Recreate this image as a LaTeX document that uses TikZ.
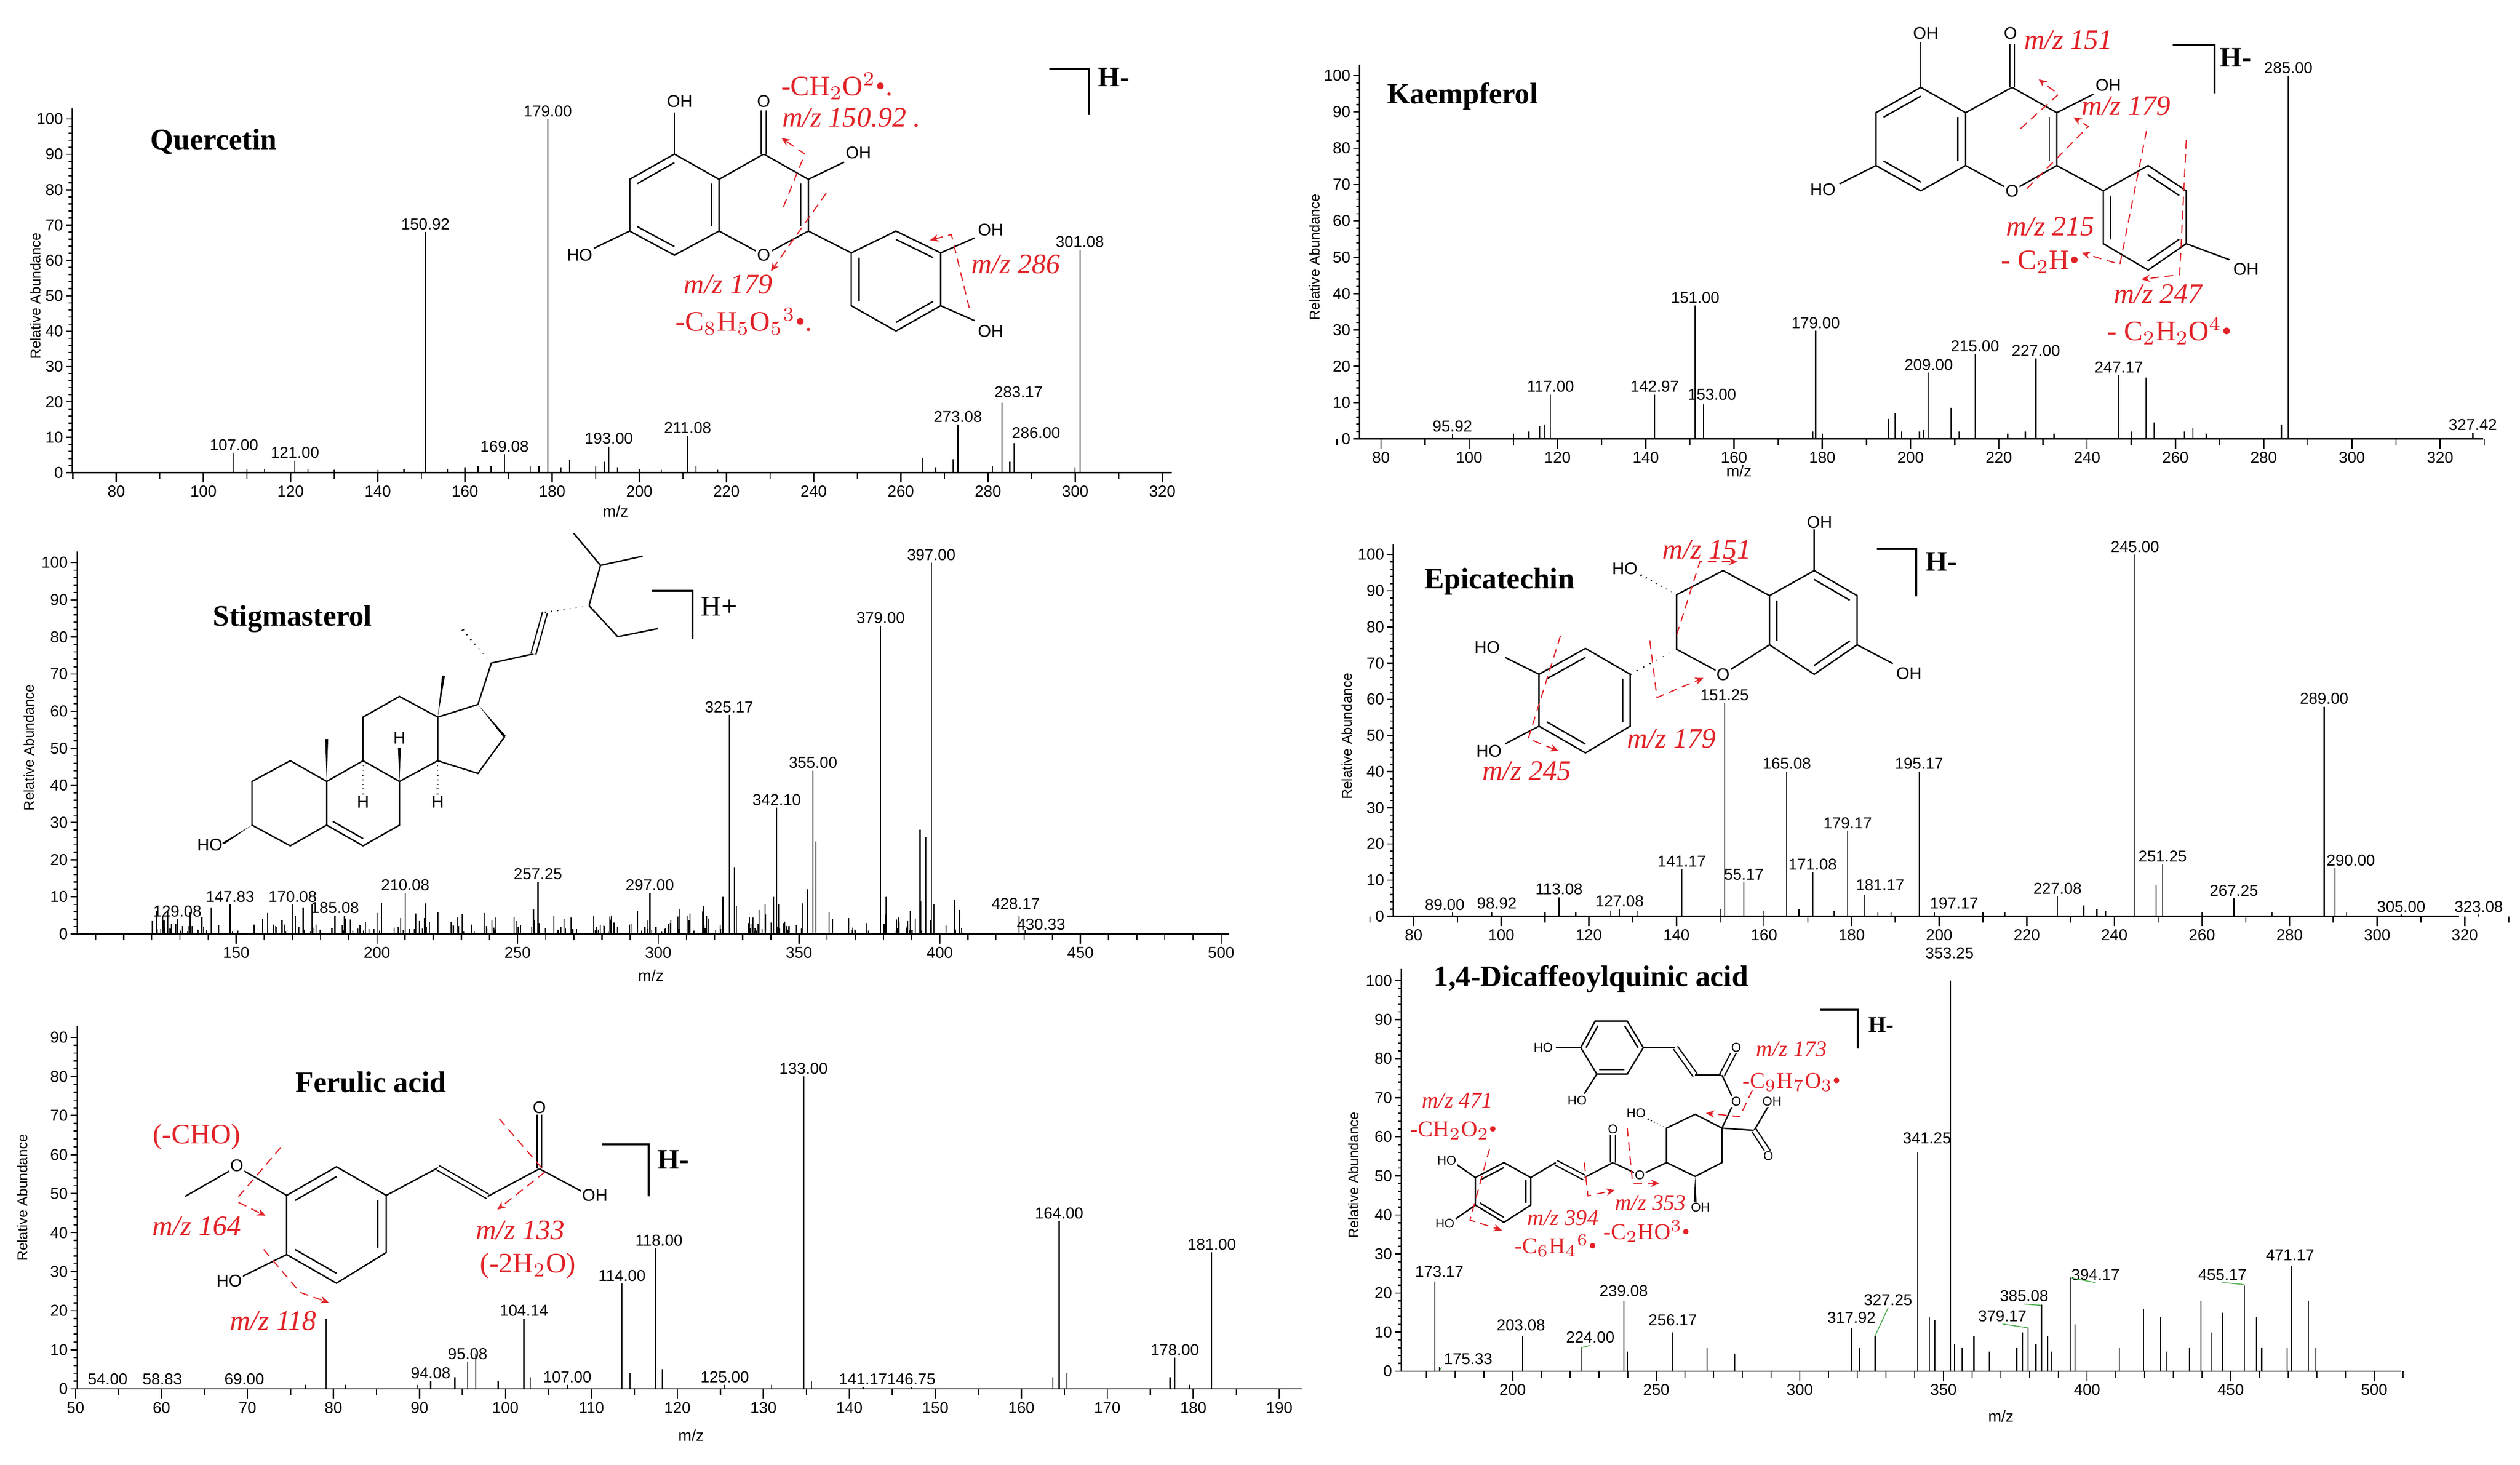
\documentclass[tikz,border=0pt]{standalone}
\usepackage{fontspec}
\setmainfont{Liberation Serif}
\setsansfont{Liberation Sans}
\usetikzlibrary{calc,arrows.meta}
\definecolor{mred}{RGB}{225,35,40}
\definecolor{mgreen}{RGB}{70,170,70}
\tikzset{
 axl/.style={line width=0.45pt,black},
 pk/.style={line width=0.4pt,black},
 ticklab/.style={font=\sffamily\fontsize{5.6}{6}\selectfont},
 pklab/.style={font=\sffamily\fontsize{5.6}{6}\selectfont,inner sep=0.6pt},
 ylab/.style={font=\sffamily\fontsize{5}{5}\selectfont,rotate=90},
 ttl/.style={font=\bfseries\fontsize{10.5}{11}\selectfont},
 hion/.style={font=\bfseries\fontsize{10}{10}\selectfont},
 bond/.style={line width=0.5pt},
 dbond/.style={line width=0.45pt,double,double distance=1.3pt},
 atom/.style={font=\sffamily\fontsize{6}{6}\selectfont,inner sep=0.4pt,fill=white},
 satom/.style={font=\sffamily\fontsize{4.5}{4.5}\selectfont,inner sep=0.3pt,fill=white},
 rlab/.style={text=mred,font=\fontsize{10}{10}\selectfont,inner sep=0.5pt},
 srlab/.style={text=mred,font=\fontsize{8}{8}\selectfont,inner sep=0.5pt},
 rda/.style={draw=mred,densely dashed,line width=0.4pt,-{Stealth[length=3pt,width=2.6pt]}},
 brk/.style={line width=0.7pt},
 gl/.style={draw=mgreen,line width=0.3pt}
}
\newcommand{\specaxis}[9]{%
 \draw[axl] (#1,#2) -- (#4,#2);
 \draw[axl] (#1,#2) -- (#1,{#2-(#9+3)/100*(#2-#3)});
 \foreach \v in {0,10,...,#9} \draw[axl] (#1,{#2-\v/100*(#2-#3)}) -- ++(-4,0) node[ticklab,left,inner sep=0.8pt]{\v};
 \foreach \v in {2,4,...,#9} \draw[axl] (#1,{#2-\v/100*(#2-#3)}) -- ++(-2.2,0);
 \foreach \m in {#7} \draw[axl] ({#5+#6*\m},#2) -- ++(0,6) node[ticklab,below,inner sep=1pt]{\m};
 \foreach \m in {#8} \draw[axl] ({#5+#6*\m},#2) -- ++(0,4);
}
\newcommand{\pks}[5]{\foreach \m/\h in {#5} \draw[pk] ({#1+#2*\m},#3) -- ++(0,{-\h/100*(#3-#4)});}
\newcommand{\plab}[5]{\foreach \m/\h/\tx in {#5} \node[pklab,anchor=south] at ({#1+#2*\m},{#3-\h/100*(#3-#4)}) {\tx};}
\newcommand{\ib}[3]{\draw[bond] ($(#1)!0.17!(#3)$) -- ($(#2)!0.17!(#3)$);}
\newcommand{\db}[2]{\draw[dbond] (#1) -- (#2);}
\newcommand{\wg}[2]{\fill (#1) -- ($(#2)!2.2pt!90:(#1)$) -- ($(#2)!2.2pt!-90:(#1)$) -- cycle;}
\newcommand{\hb}[2]{\foreach \tt [evaluate=\tt as \ww using \tt*2.0] in {0.15,0.29,0.43,0.57,0.71,0.85,0.99} \draw[line width=0.35pt] ($(#1)!\tt!(#2)!\ww pt!90:(#1)$) -- ($(#1)!\tt!(#2)!\ww pt!-90:(#1)$);}
\begin{document}
\begin{tikzpicture}[x=0.02cm,y=-0.02cm]
\fill[white] (0,0) rectangle (1568,911.3);
\useasboundingbox (0,0) rectangle (1568,911.3);

% ================= Quercetin =================
\specaxis{45}{294}{74}{729}{-144.6}{2.712}{80,100,...,320}{70,90,...,310}{100}
\pks{-144.6}{2.712}{294}{74}{107/5.6,121/3.4,150.92/68,169.08/5.2,179/100,193/7.4,211.08/10.4,273.08/13.6,283.17/19.8,286/8.4,301.08/63,265/4.2,272/3.8,184/3.6,192/3,160/1.5,190/2,213/2,110/1,114/1,124/1,163/2,166/2,175/2,177/2,182/1.5,195/1.5,268/1.5,281/2,285/3,300/1.5,130/0.8,140/0.8,146/1,156/1,200/1,205/0.8,218/0.8}
\plab{-144.6}{2.712}{294}{74}{107/5.6/107.00,121/3.4/121.00,150.92/68/150.92,169.08/5.2/169.08,179/100/179.00,193/7.4/193.00,211.08/10.4/211.08,273.08/13.6/273.08,287/20.5/283.17,291/9/286.00,301.08/63/301.08}
\node[ylab] (qy) at (22,184) {Relative Abundance};
\node[ticklab] (qx) at (383,318) {m/z};
\node[ttl] (qt) at (133,88) {Quercetin};
\begin{scope}[shift={(336.2,0)},xscale=0.2224,yscale=0.143]
 \draw[bond] (375,670)--(500,780)--(500,1005)--(375,1110)--(250,1005)--(250,780)--cycle;
 \draw[bond] (500,780)--(625,670)--(750,780)--(750,1005)--(625,1110)--(500,1005);
 \draw[bond] (995,1005)--(1120,1100)--(1120,1330)--(995,1440)--(870,1330)--(870,1100)--cycle;
 \ib{250,780}{375,670}{375,890} \ib{500,780}{500,1005}{375,890} \ib{375,1110}{250,1005}{375,890}
 \ib{750,780}{750,1005}{625,890}
 \ib{995,1005}{1120,1100}{995,1220} \ib{1120,1330}{995,1440}{995,1220} \ib{870,1330}{870,1100}{995,1220}
 \draw[bond] (750,1005)--(870,1100);
 \draw[bond] (375,670)--(375,490); \db{625,670}{625,480}
 \draw[bond] (750,780)--(850,705); \draw[bond] (250,1005)--(150,1080);
 \draw[bond] (1120,1100)--(1215,1035); \draw[bond] (1120,1330)--(1215,1395);
 \node[atom] (qo1) at (390,440) {OH}; \node[atom] (qo2) at (625,440) {O};
 \node[atom] (qo3) at (890,665) {OH}; \node[atom] (qo4) at (110,1110) {HO};
 \node[atom] (qo5) at (625,1110) {O}; \node[atom] (qo6) at (1260,1000) {OH};
 \node[atom] (qo7) at (1260,1440) {OH};
 \draw[rda] (680,900)--(740,670)--(675,600);
 \draw[rda] (800,840)--(645,1180);
 \draw[rda] (1200,1340)--(1150,1020)--(1090,1045);
\end{scope}
\node[rlab] (qr1) at (520.8,53.6) {-CH$_2$O$^2$\textbullet.};
\node[rlab] (qr2) at (529.7,73) {\itshape m/z 150.92 .};
\node[rlab] (qr3) at (453,177) {\itshape m/z 179};
\node[rlab] (qr4) at (463,200) {-C$_8$H$_5$O$_5$$^3$\textbullet.};
\node[rlab] (qr5) at (632,164.5) {\itshape m/z 286};
\draw[brk] (653,43)--(677.6,43)--(677.6,71.5);
\node[hion] (qh) at (693,48) {H-};

% ================= Kaempferol =================
\specaxis{846}{273}{47}{1545}{639.6}{2.746}{80,100,...,320}{70,90,...,330}{100}
\pks{639.6}{2.746}{273}{47}{96.2/1.3,118.4/12.2,142/12.2,151.2/36.7,153.1/9.5,178.5/29.8,204.1/18.2,214.6/23.4,228.4/22.1,247.2/17.6,285.6/100,327.4/1.7,209.2/8.6,253.4/16.9,255.2/4.5,196.5/7,195/5.5,113.5/2,116/3.5,117/4,203/2.5,284/4,262/2,264/3,232.5/1.5,110/1.5,177.8/2,180/1.5,198/2,202/2,211/2,222/1.5,226/2,250/2,267/1.5}
\plab{639.6}{2.746}{273}{47}{96.2/1.3/95.92,118.4/12.2/117.00,142/12.2/142.97,151.2/36.7/151.00,155/10/153.00,178.5/29.8/179.00,204.1/18.2/209.00,214.6/23.4/215.00,228.4/22.1/227.00,247.2/17.6/247.17,285.6/100/285.00,327.4/1.7/327.42}
\node[ylab] (ky) at (818,160) {Relative Abundance};
\node[ticklab] (kx) at (1082,293) {m/z};
\node[ttl] (kt) at (910,60) {Kaempferol};
\begin{scope}[shift={(1120.8,0)},xscale=0.2065,yscale=0.143]
 \draw[bond] (360,380)--(495,490)--(495,720)--(360,830)--(225,720)--(225,490)--cycle;
 \draw[bond] (495,490)--(635,380)--(770,490)--(770,720)--(635,830)--(495,720);
 \draw[bond] (1045,720)--(1160,830)--(1160,1060)--(1045,1175)--(910,1060)--(910,830)--cycle;
 \ib{225,490}{360,380}{360,605} \ib{495,490}{495,720}{360,605} \ib{360,830}{225,720}{360,605}
 \ib{770,490}{770,720}{635,605}
 \ib{1045,720}{1160,830}{1035,948} \ib{1160,1060}{1045,1175}{1035,948} \ib{910,1060}{910,830}{1035,948}
 \draw[bond] (770,720)--(910,830);
 \draw[bond] (360,380)--(360,185); \db{635,380}{635,190}
 \draw[bond] (770,490)--(880,410); \draw[bond] (225,720)--(115,800);
 \draw[bond] (1160,1060)--(1290,1130);
 \node[atom] (ko1) at (375,145) {OH}; \node[atom] (ko2) at (630,145) {O};
 \node[atom] (ko3) at (925,370) {OH}; \node[atom] (ko4) at (65,825) {HO};
 \node[atom] (ko5) at (635,830) {O}; \node[atom] (ko6) at (1340,1170) {OH};
 \draw[rda] (660,560)--(775,410)--(715,345);
 \draw[rda] (680,820)--(865,550)--(820,510);
 \draw[rda] (1040,570)--(960,1150)--(845,1100);
 \draw[rda] (1160,610)--(1140,1195)--(1025,1215);
\end{scope}
\node[rlab] (kr1) at (1287,25) {\itshape m/z 151};
\node[rlab] (kr2) at (1323,65.8) {\itshape m/z 179};
\node[rlab] (kr3) at (1275.7,140.9) {\itshape m/z 215};
\node[rlab] (kr4) at (1269.5,163) {- C$_2$H\textbullet};
\node[rlab] (kr5) at (1342.8,183) {\itshape m/z 247};
\node[rlab] (kr6) at (1350,206) {- C$_2$H$_2$O$^4$\textbullet};
\draw[brk] (1352,27.9)--(1378,27.9)--(1378,58);
\node[hion] (kh) at (1391,35.7) {H-};

% ================= Stigmasterol =================
\specaxis{48}{581}{350}{765}{-115.7}{1.751}{150,200,...,500}{100,110,...,500}{100}
\pks{-115.7}{1.751}{581}{350}{129.08/4,147.83/8,170.08/8,185.08/5,210.08/11,257.25/14,297/11,325.17/59,342.1/34,355/44,379/83,397/100,428.17/5,430.33/1,393/28,395/26,381/10,398/8,327/18,323/10,356/25,353/12,341/10,338/8}
\pgfmathsetseed{11}
\foreach \i in {1,...,240}{\pgfmathsetmacro\mm{120+rnd*290}\pgfmathsetmacro\hh{0.8+rnd*rnd*9}
 \draw[pk] ({-115.7+1.751*\mm},581) -- ++(0,{-2.31*\hh});}
\plab{-115.7}{1.751}{581}{350}{129.08/4/129.08,147.83/8/147.83,170.08/8/170.08,185.08/5/185.08,210.08/11/210.08,257.25/14/257.25,297/11/297.00,325.17/59/325.17,342.1/34/342.10,355/44/355.00,379/83/379.00,397/100/397.00,427/6/428.17,436/0.5/430.33}
\node[ylab] (sy) at (18,465) {Relative Abundance};
\node[ticklab] (sx) at (405,607) {m/z};
\node[ttl] (st) at (182,385) {Stigmasterol};
\begin{scope}[shift={(99.6,323.8)},xscale=0.2383,yscale=0.143]
 \draw[bond] (340,1045)--(435,1135)--(435,1325)--(340,1415)--(240,1325)--(240,1135)--cycle;
 \draw[bond] (435,1135)--(530,1045)--(625,1135)--(625,1325)--(530,1415)--(435,1325);
 \ib{435,1325}{530,1415}{530,1230}
 \draw[bond] (530,1045)--(530,855)--(625,765)--(725,855)--(725,1045)--(625,1135);
 \draw[bond] (725,855)--(830,800); \wg{830,800}{900,940}
 \draw[bond] (900,940)--(830,1100)--(725,1045);
 \draw[bond] (830,800)--(865,620)--(975,580); \db{975,580}{1005,400}
 \hb{1120,370}{1005,400}
 \draw[bond] (1120,370)--(1150,195)--(1080,55); \draw[bond] (1150,195)--(1260,155);
 \draw[bond] (1120,370)--(1195,505)--(1300,470);
 \hb{865,620}{790,475}
 \wg{435,1135}{435,950} \wg{725,855}{740,675} \wg{625,1135}{625,990}
 \hb{530,1045}{530,1190} \hb{725,1045}{725,1190}
 \wg{240,1325}{165,1405}
 \node[atom,fill=none] (sh1) at (625,945) {H};
 \node[atom,fill=none] (sh2) at (530,1225) {H};
 \node[atom,fill=none] (sh3) at (725,1225) {H};
 \node[atom,fill=none] (sho) at (130,1410) {HO};
\end{scope}
\draw[brk] (405.8,367.4)--(430.8,367.4)--(430.8,397.4);
\node[hion,font=\fontsize{10}{10}\selectfont] (sh) at (447.5,377.4) {H+};

% ================= Epicatechin =================
\specaxis{867}{570}{345}{1530}{661.6}{2.725}{80,100,...,320}{70,90,...,330}{100}
\pks{661.6}{2.725}{570}{345}{88.9/1,97.8/1,113.2/5.3,127/2,141.2/13,151/59,155.4/9.4,165.2/40,171.1/12.2,179.1/23.6,183/6,195.4/40,198.9/1,227/5.5,244.7/100,251/14.4,267.3/5,287.9/58,290.4/13.3,305.5/0.5,323.2/0.5,249.5/8.7,233/3,236/2,168/2,186/1,176/1.5,131/1.5,125/1.5,110/1,117/1,150/2,160/1.5,189/1,210/1,215/1,238/1.5,260/1,276/1,293/1}
\plab{661.6}{2.725}{570}{345}{87.1/1/89.00,99/1.5/98.92,113.2/5.3/113.08,127/2/127.08,141.2/13/141.17,151/59/151.25,155.4/9.4/55.17,165.2/40/165.08,171.1/12.2/171.08,179.1/23.6/179.17,186.5/6.5/181.17,195.4/40/195.17,203.4/1.5/197.17,227/5.5/227.08,244.7/100/245.00,251/14.4/251.25,267.3/5/267.25,287.9/58/289.00,294/13.3/290.00,305.5/0.5/305.00,323.2/0.5/323.08}
\node[ylab] (ey) at (838,458) {Relative Abundance};
\node[ttl] (et) at (933,361.6) {Epicatechin};
\begin{scope}[shift={(884.2,323.8)},xscale=0.2224,yscale=0.1112]
 \draw[bond] (1100,280)--(1220,420)--(1220,695)--(1100,860)--(975,695)--(975,420)--cycle;
 \draw[bond] (975,420)--(845,280)--(715,415)--(715,720)--(845,860)--(975,695);
 \draw[bond] (460,715)--(585,860)--(585,1150)--(460,1300)--(330,1150)--(330,860)--cycle;
 \ib{1100,280}{1220,420}{1098,570} \ib{1220,695}{1100,860}{1098,570} \ib{975,695}{975,420}{1098,570}
 \ib{330,860}{460,715}{458,1008} \ib{585,860}{585,1150}{458,1008} \ib{460,1300}{330,1150}{458,1008}
 \draw[bond] (1100,280)--(1100,40); \draw[bond] (1220,695)--(1320,800);
 \hb{715,415}{615,305} \hb{715,720}{585,860}
 \draw[bond] (330,860)--(235,765); \draw[bond] (330,1150)--(235,1250);
 \node[atom] (eo1) at (1115,10) {OH}; \node[atom] (eo2) at (1365,855) {OH};
 \node[atom] (eo3) at (845,860) {O}; \node[atom] (eo4) at (570,270) {HO};
 \node[atom] (eo5) at (185,710) {HO}; \node[atom] (eo6) at (190,1290) {HO};
 \draw[rda] (715,640)--(780,230)--(885,230);
 \draw[rda] (640,670)--(660,990)--(790,880);
 \draw[rda] (390,645)--(300,1220)--(385,1290);
\end{scope}
\node[rlab] (er1) at (1062,342) {\itshape m/z 151};
\node[rlab] (er2) at (1040,459.5) {\itshape m/z 179};
\node[rlab] (er3) at (950,479.5) {\itshape m/z 245};
\draw[brk] (1167.8,341.6)--(1192.2,341.6)--(1192.2,371.1);
\node[hion] (eh) at (1208,349.4) {H-};

% ================= Ferulic acid =================
\specaxis{48}{864}{621}{810}{-220.5}{5.35}{50,60,...,190}{55,65,...,185}{90}
\pks{0}{1}{864}{621}{203/18,268/2,291/7,296/9,326/18,353/1,387/27,408/36,451/1,500/80,537/0.5,567/0.5,659/43,728/3,731/8,754/35,190/1,215/1,260/1,283/3,310/2,330/3,392/4,412/5,480/1,505/2,655/3,664/4,740/1}
\plab{0}{1}{864}{621}{268/2/94.08,291/7/95.08,326/18/104.14,353/1/107.00,387/27/114.00,410/36/118.00,451/1/125.00,500/80/133.00,537/0.5/141.17,567/0.5/146.75,659/43/164.00,731/8/178.00,754/35/181.00,67/0.5/54.00,101/0.5/58.83,152/0.5/69.00}
\node[ylab] (fy) at (14,745) {Relative Abundance};
\node[ticklab] (fx) at (430,893) {m/z};
\node[ttl] (ft) at (230.8,673) {Ferulic acid};
\begin{scope}[shift={(74.7,647.6)},xscale=0.2383,yscale=0.1271]
 \draw[bond] (565,615)--(695,755)--(695,1035)--(565,1185)--(435,1045)--(435,755)--cycle;
 \ib{435,755}{565,615}{565,900} \ib{695,755}{695,1035}{565,900} \ib{565,1185}{435,1045}{565,900}
 \draw[bond] (435,755)--(305,615)--(170,760);
 \draw[bond] (435,1045)--(300,1170);
 \draw[bond] (695,755)--(830,620); \db{830,620}{960,760} \draw[bond] (960,760)--(1095,625);
 \db{1095,625}{1095,360} \draw[bond] (1095,625)--(1215,745);
 \node[atom] (fo1) at (305,610) {O}; \node[atom] (fo2) at (285,1175) {HO};
 \node[atom] (fo3) at (1095,325) {O}; \node[atom] (fo4) at (1240,755) {OH};
 \draw[rda] (420,520)--(310,760)--(310,790)--(380,855);
 \draw[rda] (375,1020)--(470,1230)--(545,1280);
 \draw[rda] (990,380)--(1110,640)--(985,825);
\end{scope}
\node[rlab] (fr1) at (122.4,707.3) {(-CHO)};
\node[rlab] (fr2) at (122.4,762.6) {\itshape m/z 164};
\node[rlab] (fr3) at (170,821.7) {\itshape m/z 118};
\node[rlab] (fr4) at (323.7,765.2) {\itshape m/z 133};
\node[rlab] (fr5) at (328.5,787.4) {(-2H$_2$O)};
\draw[brk] (374.9,711.8)--(403.6,711.8)--(403.6,744.2);
\node[hion] (fh) at (419,721.3) {H-};

% ================= 1,4-Dicaffeoylquinic acid =================
\specaxis{872}{853}{610}{1494}{583.8}{1.787}{200,250,...,500}{170,180,...,510}{100}
\pks{583.8}{1.787}{853}{610}{172.9/23,174.5/1,203.5/9,223.8/6,238.7/18,240/5,255.8/10,267.7/6,277.4/4.5,318.1/11,320.8/6,326.2/9,341.1/56,345.1/14,347/13,352.5/100,353.8/7,356.5/6,360.6/9,366/5,375.5/6,377.6/10,379.5/11,382.2/7,384.1/17,386.3/9,387.7/5,394.4/24,395.8/12,411.2/6,419.6/16,425.6/14,427.5/5,435.6/6,439.6/18,443.2/10,447.2/15,454.8/22,458.9/14,460.8/6,469.7/6,471.1/27,477/18,479.7/6}
\node[pklab] (d1) at (895.6,791) {173.17};
\node[pklab] (d2) at (913.5,845.4) {175.33};
\node[pklab] (d3) at (946.4,824.4) {203.08};
\node[pklab] (d4) at (989.5,832) {224.00};
\node[pklab] (d5) at (1010.3,803) {239.08};
\node[pklab] (d6) at (1040.8,821.1) {256.17};
\node[pklab] (d7) at (1152,819.6) {317.92};
\node[pklab] (d8) at (1174.8,808.7) {327.25};
\node[pklab] (d9) at (1199,708) {341.25};
\node[pklab] (d10) at (1213,593) {353.25};
\node[pklab] (d11) at (1245.9,818.7) {379.17};
\node[pklab] (d12) at (1259.4,806.3) {385.08};
\node[pklab] (d13) at (1303.9,793) {394.17};
\node[pklab] (d14) at (1382.8,793) {455.17};
\node[pklab] (d15) at (1424.9,780.6) {471.17};
\draw[gl] (d8.south) -- (1166.7,831);
\draw[gl] (d2.south west) -- (896,852);
\draw[gl] (d4.south) -- (983.6,838.4);
\draw[gl] (d11.south) -- (1262,826);
\draw[gl] (d12.south) -- (1270,812);
\draw[gl] (d13.south) -- (1289,795);
\draw[gl] (d14.south) -- (1396,799);
\node[ylab] (dy) at (842,731) {Relative Abundance};
\node[ticklab] (dx) at (1245,881) {m/z};
\node[ttl] (dt) at (990,609) {1,4-Dicaffeoylquinic acid};
\begin{scope}[shift={(846.8,610.2)},xscale=0.2224,yscale=0.143]
 \draw[bond] (655,175)--(745,175)--(790,290)--(745,405)--(660,405)--(615,290)--cycle;
 \ib{615,290}{655,175}{702,290} \ib{745,175}{790,290}{702,290} \ib{745,405}{660,405}{702,290}
 \draw[bond] (615,290)--(545,290); \draw[bond] (660,405)--(625,490);
 \draw[bond] (790,290)--(880,290); \db{880,290}{935,410} \draw[bond] (935,410)--(1010,410);
 \db{1010,410}{1045,305} \draw[bond] (1010,410)--(1045,525)--(1010,640);
 \draw[bond] (935,580)--(1010,640)--(1010,790)--(935,850)--(855,790)--(855,640)--cycle;
 \draw[bond] (1010,640)--(1100,650)--(1140,545); \db{1100,650}{1140,745}
 \hb{855,640}{795,595} \wg{935,850}{935,960}
 \draw[bond] (855,790)--(780,845)--(705,790); \db{705,790}{705,665}
 \draw[bond] (705,790)--(625,855); \db{625,855}{545,790} \draw[bond] (545,790)--(475,855);
 \draw[bond] (400,790)--(475,855)--(475,975)--(400,1050)--(320,975)--(320,855)--cycle;
 \ib{320,855}{400,790}{397,920} \ib{475,855}{475,975}{397,920} \ib{400,1050}{320,975}{397,920}
 \draw[bond] (320,855)--(265,795); \draw[bond] (320,975)--(265,1035);
 \node[satom] (do1) at (510,290) {HO}; \node[satom] (do2) at (605,520) {HO};
 \node[satom] (do3) at (1050,290) {O}; \node[satom] (do4) at (1050,525) {O};
 \node[satom] (do5) at (1150,525) {OH}; \node[satom] (do6) at (1140,760) {O};
 \node[satom] (do7) at (770,575) {HO}; \node[satom] (do8) at (950,985) {OH};
 \node[satom] (do9) at (780,845) {O}; \node[satom] (do10) at (705,645) {O};
 \node[satom] (do11) at (240,780) {HO}; \node[satom] (do12) at (235,1055) {HO};
 \draw[rda] (360,730)--(305,1040)--(395,1085);
 \draw[rda] (625,790)--(635,935)--(710,910);
 \draw[rda] (745,640)--(760,880)--(835,880);
 \draw[rda] (1095,475)--(1060,590)--(965,575);
\end{scope}
\node[srlab] (dr1) at (906.8,684.6) {\itshape m/z 471};
\node[srlab] (dr2) at (904.6,703.2) {-CH$_2$O$_2$\textbullet};
\node[srlab] (dr3) at (972.5,757.5) {\itshape m/z 394};
\node[srlab] (dr4) at (968,774.7) {-C$_6$H$_4$$^6$\textbullet};
\node[srlab] (dr5) at (1027,748.2) {\itshape m/z 353};
\node[srlab] (dr6) at (1024.7,766) {-C$_2$HO$^3$\textbullet};
\node[srlab] (dr7) at (1114.8,652.4) {\itshape m/z 173};
\node[srlab] (dr8) at (1114.8,673.1) {-C$_9$H$_7$O$_3$\textbullet};
\draw[brk] (1132.6,628)--(1156,628)--(1156,652.4);
\node[hion,font=\bfseries\fontsize{8}{8}\selectfont] (dh) at (1170.4,637.4) {H-};
\end{tikzpicture}
\end{document}
